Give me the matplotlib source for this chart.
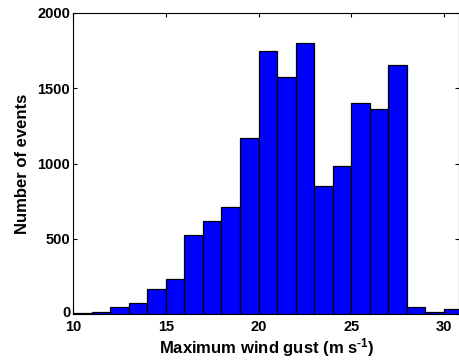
import numpy as np
import matplotlib
matplotlib.use("Agg")
import matplotlib.pyplot as plt
import matplotlib.transforms as mtransforms

plt.rcParams['font.family'] = ['Liberation Sans', 'DejaVu Sans']
plt.rcParams['font.weight'] = 'bold'
plt.rcParams['mathtext.fontset'] = 'custom'
plt.rcParams['mathtext.rm'] = 'Liberation Sans:bold'
plt.rcParams['mathtext.default'] = 'rm'

# histogram bins (1 m/s wide) and counts
bin_edges = np.arange(10, 32, 1)
counts = [5, 13, 46, 75, 164, 235, 523, 620, 709, 1167, 1747,
          1575, 1799, 853, 985, 1400, 1364, 1652, 46, 11, 31]

fig = plt.figure(figsize=(4.6, 3.61), dpi=100)
ax = fig.add_axes([0.1587, 0.130, 0.840, 0.834])

ax.bar(bin_edges[:-1], counts, width=1.0, align='edge',
       color='#0000ff', edgecolor='black', linewidth=0.9)

ax.set_xlim(10, 30.83)
ax.set_ylim(0, 2000)
ax.set_xticks([10, 15, 20, 25, 30])
ax.set_yticks([0, 500, 1000, 1500, 2000])
ax.tick_params(direction='in', length=3, width=0.8, top=True, right=True,
               labelsize=10.5)
ax.tick_params(axis='x', pad=4)
ax.tick_params(axis='y', pad=2)
for lbl in ax.get_xticklabels() + ax.get_yticklabels():
    lbl.set_fontweight('bold')

# nudge the "0" up a little so it clears the "10" below it
zero = ax.get_yticklabels()[0]
zero.set_transform(zero.get_transform() +
                   mtransforms.ScaledTranslation(0, 3 / 100, fig.dpi_scale_trans))
for s in ax.spines.values():
    s.set_linewidth(0.8)

ax.set_xlabel(r'Maximum wind gust (m s$^{\text{-1}}$)', fontsize=12,
              fontweight='bold', labelpad=1.5)
ax.set_ylabel('Number of events', fontsize=12, fontweight='bold',
              labelpad=5)

fig.savefig('out.png', dpi=100)
